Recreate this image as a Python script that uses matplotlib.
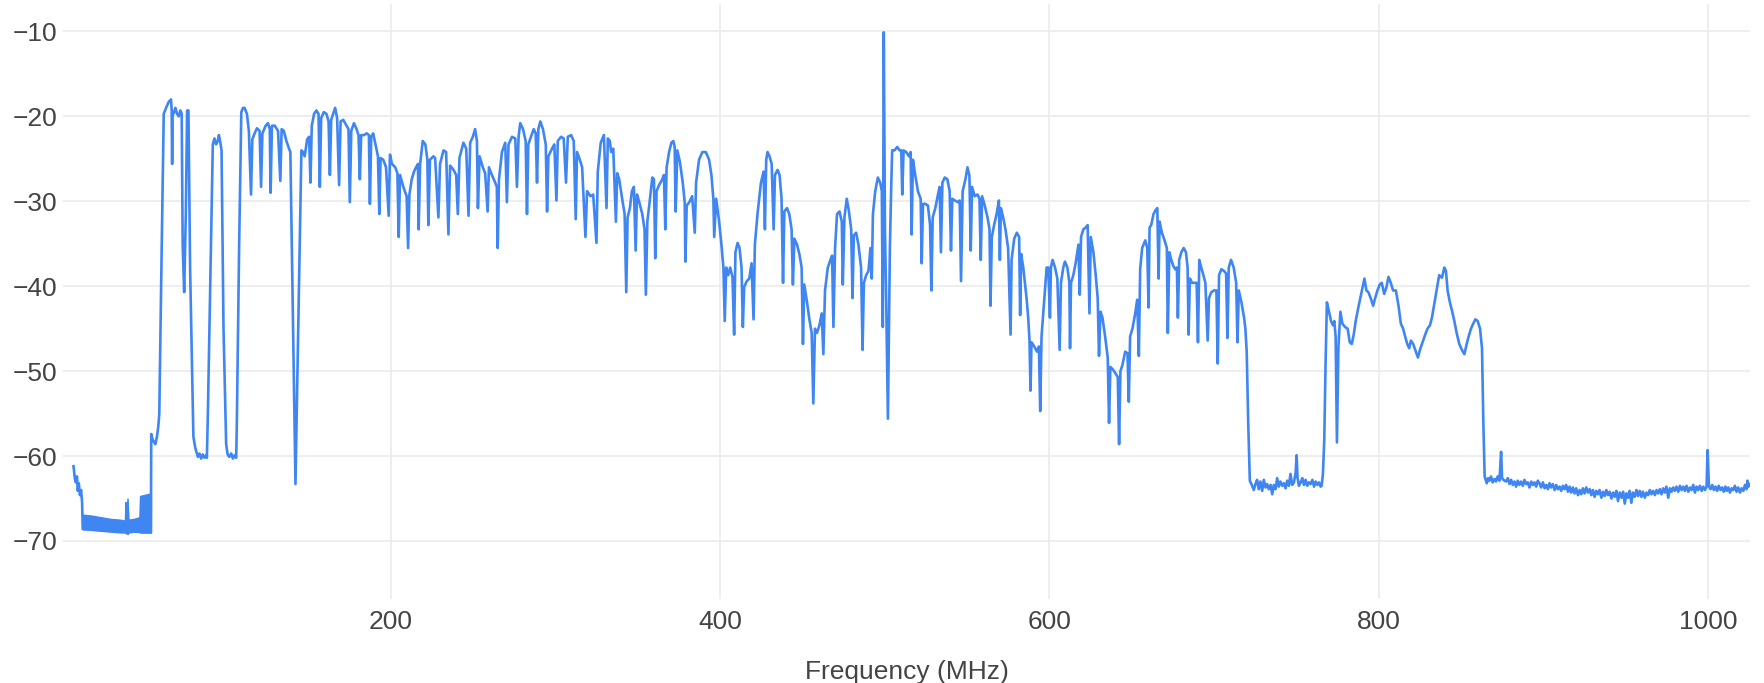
import numpy as np
import matplotlib
matplotlib.use("Agg")
import matplotlib.pyplot as plt

# spectrum sweep, (MHz, dB)
start_pts = [(7.4, -61.2), (8.2, -62.6), (8.8, -63.1), (9.5, -62.4), (10.0, -64.1), (10.6, -63.2),
             (11.3, -64.6), (12.0, -64.0), (12.6, -65.4), (13.0, -68.6), (54.4, -69.0)]

# dense floor 13-54 MHz shows as a solid band
band_mhz = [13.0, 18, 24, 30, 36, 38.6, 39.0, 39.5, 40.2, 40.8, 44, 47.4, 47.8, 50, 52, 54.4]
band_top = [-66.9, -67.0, -67.2, -67.4, -67.5, -67.6, -65.4, -67.0, -65.0, -67.5, -67.4, -67.2, -64.7, -64.6, -64.5, -64.4]
band_bot = [-68.6, -68.7, -68.8, -68.9, -69.0, -69.0, -69.1, -69.0, -69.2, -69.0, -68.9, -68.8, -69.0, -69.0, -69.0, -69.0]

vhf_pts = [
    (54.6, -57.4), (55.5, -58.1), (57.1, -58.6), (58.1, -57.7), (58.9, -56.5), (59.5, -55.0), (60.6, -40.1),
    (62.2, -19.7), (63.6, -19.0), (65.2, -18.3), (66.6, -18.0), (67.0, -19.2), (67.3, -25.6), (67.6, -19.5),
    (68.1, -19.7), (69.3, -19.0), (70.3, -19.7), (71.3, -20.0), (72.3, -19.3), (73.1, -19.7), (73.7, -35.1),
    (74.6, -40.7), (75.6, -31.5), (76.4, -19.3), (77.2, -19.3), (78.2, -37.8), (80.2, -57.7), (81.3, -59.0),
    (81.9, -59.4), (82.9, -60.1), (83.9, -59.7), (84.9, -60.3), (85.9, -59.8), (86.9, -60.2), (88.0, -59.9),
    (88.4, -60.2), (89.0, -55.0), (90.6, -37.8), (92.0, -23.3), (93.0, -22.6), (94.0, -23.3), (95.0, -22.9),
    (95.7, -22.2), (96.5, -23.0), (97.3, -24.0), (98.5, -45.0), (100.1, -58.6), (101.0, -59.8), (102.0, -60.1),
    (103.2, -59.7), (104.2, -60.3), (105.3, -59.9), (106.2, -60.2), (106.6, -56.0), (108.0, -35.0),
    (109.3, -19.5), (110.3, -19.0), (111.3, -19.0), (112.7, -19.7), (113.9, -21.7), (115.2, -29.2),
    (116.0, -22.7), (117.4, -22.0), (118.8, -21.4), (120.4, -21.7), (121.3, -28.3), (122.1, -22.0),
    (124.1, -21.1), (125.5, -20.8), (126.6, -21.5), (127.1, -29.0), (127.9, -21.1), (129.6, -21.1),
    (131.6, -21.7), (133.0, -27.6), (133.8, -21.5), (135.1, -21.7), (136.7, -22.9), (138.3, -23.8),
    (139.1, -24.2), (142.2, -63.3), (145.8, -24.0), (146.8, -24.2), (147.8, -24.7), (149.3, -22.7),
    (150.5, -22.4), (151.3, -27.8), (152.1, -21.1), (153.5, -19.7), (154.9, -19.3), (156.2, -19.7),
    (157.0, -28.3), (157.8, -20.2), (159.4, -19.5), (161.0, -19.7), (162.3, -20.6), (163.1, -26.9),
    (163.9, -20.4), (165.1, -19.7), (166.3, -19.0), (167.5, -20.2), (168.7, -28.1), (169.6, -20.6),
    (171.2, -20.4), (173.2, -21.1), (174.4, -21.5), (175.2, -30.1), (176.1, -21.7), (177.7, -20.8),
    (179.3, -21.5), (180.5, -22.2), (181.3, -27.4), (182.1, -22.2), (183.8, -22.2), (185.4, -22.0),
    (186.8, -22.2), (187.4, -30.3), (188.2, -22.4), (189.4, -22.0), (191.1, -23.6), (192.3, -24.7),
    (193.1, -31.5), (193.9, -24.9), (195.5, -25.1), (197.2, -26.0), (198.8, -31.7), (199.6, -24.5),
]

mid_pts = [
    (200.8, -25.6), (202.8, -26.0), (204.1, -26.7), (204.9, -34.2), (205.7, -26.9), (207.7, -28.3),
    (209.7, -29.4), (210.6, -35.5), (211.4, -29.2), (212.8, -27.4), (214.2, -26.5), (215.4, -26.0),
    (216.6, -25.6), (217.0, -33.3), (217.9, -25.6), (219.5, -22.9), (221.1, -23.3), (222.3, -25.1),
    (222.9, -32.8), (223.9, -25.1), (226.0, -24.7), (227.0, -24.9), (229.0, -31.9), (230.0, -25.6),
    (232.1, -24.0), (233.7, -24.2), (235.1, -33.9), (236.1, -25.8), (238.2, -26.3), (239.8, -26.9),
    (240.8, -31.5), (241.8, -24.9), (244.2, -23.1), (245.9, -23.8), (247.3, -31.7), (248.3, -23.1),
    (249.9, -22.4), (251.3, -21.5), (252.4, -22.9), (253.0, -30.8), (254.0, -24.7), (256.0, -26.0),
    (257.4, -26.7), (258.9, -31.2), (259.7, -26.0), (261.5, -26.9), (263.5, -27.8), (264.5, -28.3),
    (265.0, -35.5), (265.8, -27.4), (267.6, -24.2), (269.6, -23.1), (270.6, -30.1), (271.6, -23.3),
    (273.7, -22.4), (275.7, -22.6), (276.7, -28.3), (277.7, -22.4), (278.7, -20.8), (280.4, -21.5),
    (282.0, -22.9), (282.8, -31.5), (283.6, -23.3), (285.2, -22.4), (286.9, -21.5), (288.1, -22.0),
    (288.9, -27.8), (289.7, -21.5), (290.9, -20.6), (292.5, -21.5), (294.2, -23.3), (295.0, -31.2),
    (295.8, -24.7), (298.0, -23.8), (299.4, -23.3), (300.7, -29.9), (301.5, -22.9), (303.5, -22.4),
    (305.1, -22.6), (306.5, -27.8), (307.6, -22.4), (309.6, -22.2), (311.2, -22.9), (312.4, -32.1),
    (313.2, -24.2), (314.9, -25.1), (316.3, -26.0), (318.3, -34.2), (319.3, -28.8), (321.4, -29.4),
    (323.0, -29.2), (325.0, -34.9), (325.8, -26.5), (327.6, -23.1), (329.5, -22.2), (331.1, -30.8),
    (331.9, -22.6), (333.1, -22.9), (333.9, -24.2), (335.2, -23.8), (336.8, -32.4), (337.6, -26.7),
    (338.8, -27.4), (340.6, -29.7), (342.1, -31.5), (343.1, -40.7), (343.9, -31.9), (345.3, -30.8),
    (346.5, -28.8), (347.7, -28.3), (348.8, -35.8), (349.6, -29.2), (351.0, -30.1), (352.8, -31.5),
    (354.2, -33.3), (355.0, -41.0), (355.9, -32.4), (357.5, -29.7), (358.9, -27.2), (359.9, -27.4),
    (360.7, -36.7), (361.5, -28.8), (363.0, -28.1), (365.0, -27.4), (366.0, -26.9), (366.8, -33.3),
    (367.6, -26.0), (369.1, -24.2), (370.5, -23.1), (371.7, -22.9), (372.5, -23.6), (373.1, -31.2),
    (374.1, -24.0), (375.7, -25.4), (377.4, -27.8), (378.6, -30.1), (379.0, -37.1), (379.8, -30.5),
    (381.4, -30.1), (383.1, -29.4), (384.7, -33.7), (385.5, -27.8), (387.3, -25.1), (389.3, -24.2),
    (391.4, -24.2), (393.4, -25.1), (394.8, -26.9), (396.0, -29.7), (396.5, -34.2), (397.7, -29.7),
    (399.5, -32.4),
]

uhf_pts = [
    (400.9, -35.1), (402.1, -37.8), (402.9, -44.1), (403.8, -37.8), (405.0, -38.7), (406.2, -37.8),
    (407.6, -38.9), (408.6, -45.7), (409.4, -36.0), (410.7, -34.9), (411.9, -35.5), (413.1, -37.8),
    (413.9, -44.8), (414.7, -40.1), (416.3, -39.4), (417.8, -39.1), (419.2, -37.3), (420.4, -43.9),
    (421.2, -35.1), (422.8, -31.5), (424.9, -27.8), (426.5, -26.5), (427.3, -33.3), (428.1, -25.1),
    (428.9, -24.2), (430.1, -24.7), (431.4, -25.6), (432.6, -33.3), (433.4, -26.9), (435.0, -26.3),
    (436.2, -26.9), (437.4, -29.7), (438.3, -39.6), (439.1, -31.2), (440.7, -30.8), (442.1, -31.5),
    (443.5, -33.3), (444.3, -39.8), (445.2, -34.4), (446.8, -35.1), (448.2, -36.2), (449.6, -37.8),
    (450.4, -46.8), (451.2, -39.8), (452.9, -41.9), (454.3, -43.9), (455.7, -45.5), (456.7, -53.8),
    (457.7, -45.0), (458.9, -45.5), (460.4, -44.6), (461.8, -43.2), (462.8, -48.0), (463.8, -40.5),
    (465.5, -37.8), (467.1, -36.9), (468.1, -36.4), (468.9, -44.8), (469.9, -35.5), (471.1, -31.5),
    (472.6, -31.2), (474.0, -32.4), (474.6, -39.8), (475.6, -31.9), (477.0, -29.7), (478.2, -31.0),
    (479.7, -33.3), (480.5, -41.4), (481.3, -34.0), (482.7, -33.7), (484.1, -35.1), (485.7, -37.8),
    (486.6, -47.5), (487.4, -39.6), (488.8, -38.7), (490.2, -38.2), (491.4, -35.5), (492.2, -39.1),
    (492.9, -31.5), (494.3, -28.8), (495.9, -27.2), (497.3, -27.8), (498.3, -28.8), (498.9, -44.8),
    (499.5, -10.1), (500.2, -33.3), (501.0, -42.3), (502.0, -55.6), (503.2, -35.5), (504.0, -28.3),
    (504.6, -24.0), (506.0, -24.0), (507.7, -23.6), (509.1, -24.0), (510.1, -24.0), (510.7, -29.2),
    (511.5, -24.0), (513.1, -24.2), (514.8, -24.7), (515.8, -24.2), (516.4, -33.9), (517.2, -25.1),
    (518.6, -26.9), (520.2, -28.8), (521.9, -29.7), (522.5, -37.3), (523.3, -30.3), (524.7, -30.3),
    (526.3, -30.5), (527.6, -32.8), (528.4, -40.5), (529.2, -31.9), (530.8, -30.8), (532.4, -29.2),
    (533.4, -28.3), (534.2, -36.0), (535.1, -27.8), (536.5, -27.2), (538.1, -27.4), (539.5, -28.8),
    (540.3, -35.8), (541.1, -29.7), (542.6, -29.9), (544.6, -30.1), (545.6, -29.9), (546.4, -39.4),
    (547.4, -28.8), (549.1, -27.4), (550.3, -26.0), (551.5, -27.0), (552.3, -35.8), (553.1, -28.3),
    (554.7, -29.4), (556.4, -29.2), (557.6, -29.7), (558.4, -36.9), (559.2, -29.4), (560.8, -30.5),
    (562.5, -31.9), (563.7, -33.3), (564.3, -42.3), (565.1, -34.2), (566.5, -32.8), (568.0, -31.5),
    (569.4, -29.9), (570.0, -36.9), (570.6, -30.8), (572.0, -31.9), (573.4, -33.3), (575.0, -35.5),
    (576.5, -45.7), (577.1, -36.9), (578.7, -34.4), (580.3, -33.7), (581.7, -34.2), (582.3, -43.4),
    (582.9, -36.2), (584.2, -37.8), (585.2, -39.6), (586.2, -41.4), (587.2, -43.7), (588.0, -46.4),
    (588.6, -52.3), (589.2, -46.6), (590.9, -47.1), (592.5, -47.7), (593.7, -47.1), (594.5, -54.7),
    (595.3, -45.9), (597.0, -41.4), (598.4, -37.8), (599.4, -37.8), (600.4, -43.7), (601.0, -37.8),
    (602.0, -36.9), (603.5, -37.8), (604.9, -39.1), (606.3, -47.5), (607.1, -39.6), (608.5, -37.8),
    (609.5, -37.1), (611.0, -37.8), (612.2, -39.6), (612.6, -47.3), (613.2, -39.6), (614.6, -38.7),
    (616.0, -37.3), (617.7, -35.1), (618.5, -41.0), (619.3, -34.2), (620.7, -33.3), (622.1, -33.1),
    (623.3, -32.8), (624.4, -43.2), (625.2, -34.2), (626.8, -36.0), (628.2, -38.7), (629.4, -41.4),
    (630.2, -48.2), (631.1, -43.0), (632.3, -43.7), (633.9, -45.9), (635.5, -48.4), (636.3, -56.1),
    (637.1, -49.5), (638.6, -49.8), (640.0, -50.2), (641.6, -50.7), (642.4, -58.6), (643.2, -50.0),
    (644.4, -49.3), (646.1, -47.7), (647.5, -47.9), (648.3, -53.6), (649.1, -45.9), (650.5, -45.0),
    (652.2, -43.2), (653.4, -41.6), (654.4, -48.2), (655.2, -38.0), (656.4, -35.5), (658.3, -34.6),
    (659.5, -35.5), (660.3, -42.5), (660.9, -33.1), (661.9, -32.8), (663.3, -31.5), (664.7, -31.0),
    (665.6, -30.8), (666.4, -39.1), (667.0, -32.4), (668.4, -33.7), (670.0, -34.6), (671.4, -35.5),
    (672.0, -45.5), (672.9, -36.0), (674.1, -36.9), (675.3, -37.6), (676.5, -38.0), (677.5, -37.8),
    (678.1, -43.7), (678.9, -36.9), (680.2, -36.0), (681.6, -35.5), (683.0, -36.0), (684.0, -37.8),
    (684.6, -45.7), (685.4, -39.1), (686.7, -39.6), (688.3, -39.6), (689.5, -39.6), (690.3, -46.6),
    (691.1, -36.9), (692.3, -37.8), (693.6, -38.7), (694.8, -39.6), (696.2, -46.4), (697.0, -41.4),
    (698.4, -40.7), (700.1, -40.5), (701.5, -40.5), (702.3, -49.1), (703.1, -38.7), (704.5, -38.0),
    (706.1, -38.2), (707.4, -38.5), (708.2, -46.1), (709.0, -37.8), (710.4, -36.9), (712.0, -37.8),
    (713.5, -39.6), (714.3, -46.6), (715.1, -40.5), (716.7, -41.9), (718.3, -43.7), (719.1, -45.0),
    (719.9, -47.7), (720.8, -55.9), (721.8, -62.9),
]

gap_pts = [
    (723.2, -63.5), (724.2, -64.0), (725.2, -63.3), (726.2, -62.8), (727.2, -63.9), (728.2, -63.0),
    (729.3, -64.1), (730.3, -62.8), (731.3, -63.7), (732.3, -63.3), (733.3, -63.9), (734.4, -63.4),
    (735.4, -64.5), (736.4, -63.4), (737.4, -63.9), (738.4, -62.6), (739.4, -63.6), (740.4, -63.0),
    (741.5, -63.5), (742.5, -63.2), (743.5, -63.8), (744.5, -62.9), (745.5, -63.5), (746.5, -62.1),
    (747.5, -63.4), (748.6, -63.1), (749.6, -62.0), (750.2, -59.9), (750.8, -62.6), (751.6, -63.5),
    (752.7, -63.1), (753.7, -62.6), (754.7, -63.4), (755.7, -62.8), (756.7, -63.5), (757.7, -63.1),
    (758.7, -63.3), (759.8, -62.8), (760.8, -63.6), (761.8, -63.0), (762.8, -63.4), (763.8, -63.1),
    (764.8, -63.6), (765.4, -63.5), (766.2, -62.1), (767.0, -58.1), (767.8, -49.1),
]

lte_pts = [
    (768.6, -41.9), (769.9, -43.0), (771.1, -44.1), (772.3, -44.6), (773.1, -44.1), (773.9, -45.9),
    (774.7, -58.4), (775.6, -47.1), (776.8, -43.0), (778.0, -44.4), (779.6, -44.8), (781.2, -45.0),
    (782.5, -46.6), (783.7, -46.8), (784.9, -45.7), (786.1, -44.1), (787.7, -42.5), (789.1, -41.2),
    (790.6, -39.8), (791.4, -39.1), (792.6, -40.5), (793.8, -40.7), (795.2, -41.4), (796.7, -42.3),
    (797.9, -41.4), (799.3, -40.5), (800.7, -39.8), (801.9, -39.6), (803.4, -40.9), (804.8, -40.1),
    (806.0, -38.9), (807.4, -39.6), (808.8, -40.5), (810.5, -40.5), (812.1, -42.3), (813.5, -44.4),
    (814.9, -45.0), (816.1, -45.9), (817.4, -46.8), (818.6, -47.3), (819.6, -46.4), (821.0, -46.8),
    (822.6, -47.7), (823.9, -48.4), (825.1, -47.5), (826.7, -46.6), (828.3, -45.7), (829.7, -45.0),
    (831.2, -44.6), (832.4, -43.7), (833.8, -42.1), (835.2, -40.5), (836.8, -38.7), (838.5, -39.0),
    (839.9, -37.8), (840.9, -38.2), (841.9, -40.5), (843.3, -41.9), (844.5, -42.8), (846.0, -44.1),
    (847.4, -45.5), (849.0, -46.8), (850.6, -47.5), (852.1, -48.0), (853.5, -46.8), (854.7, -45.9),
    (856.1, -45.0), (857.5, -44.4), (858.8, -43.9), (860.2, -44.1), (861.6, -45.0), (862.8, -47.3),
    (863.6, -55.9), (864.4, -62.4),
]

tail_pts = [
    (865.7, -63.2), (866.5, -62.6), (867.3, -62.9), (868.3, -62.4), (869.3, -63.1), (870.3, -62.7),
    (871.3, -63.0), (872.3, -62.4), (873.4, -62.9), (874.4, -59.5), (875.0, -62.6), (875.8, -62.8),
    (877.4, -63.0), (878.5, -62.6), (879.5, -63.3), (880.5, -62.8), (881.5, -63.4), (882.5, -63.0),
    (883.5, -63.6), (884.5, -62.9), (885.5, -63.4), (886.5, -63.0), (887.6, -63.5), (888.6, -62.8),
    (889.6, -63.3), (890.6, -63.1), (891.6, -63.7), (892.7, -63.0), (893.7, -63.4), (894.7, -63.1),
    (895.7, -63.6), (896.7, -62.9), (897.7, -63.2), (898.7, -63.7), (899.8, -63.1), (900.8, -63.8),
    (901.8, -63.4), (902.8, -63.9), (903.8, -63.2), (904.8, -63.7), (905.8, -63.3), (906.9, -64.0),
    (907.9, -63.4), (908.9, -63.9), (909.9, -63.6), (910.9, -64.1), (911.9, -63.5), (912.9, -63.9),
    (913.9, -63.4), (915.0, -64.2), (916.0, -63.6), (917.0, -64.3), (918.0, -63.7), (919.0, -64.4),
    (920.0, -63.8), (921.1, -64.6), (922.1, -64.0), (923.1, -64.5), (924.1, -63.8), (925.1, -64.4),
    (926.1, -63.7), (927.2, -64.3), (928.2, -63.9), (929.2, -64.6), (930.2, -64.0), (931.2, -64.8),
    (932.2, -64.1), (933.2, -64.5), (934.2, -64.0), (935.3, -64.9), (936.3, -64.2), (937.3, -64.7),
    (938.3, -64.0), (939.3, -64.6), (940.3, -64.2), (941.4, -65.0), (942.4, -64.3), (943.4, -64.8),
    (944.4, -64.1), (945.4, -65.3), (946.4, -64.3), (947.5, -64.9), (948.5, -64.2), (949.5, -65.6),
    (950.5, -64.4), (951.5, -64.9), (952.5, -64.1), (953.5, -65.5), (954.5, -64.3), (955.6, -64.8),
    (956.6, -64.0), (957.6, -64.7), (958.6, -64.1), (959.6, -64.8), (960.6, -64.2), (961.7, -64.9),
    (962.7, -64.3), (963.7, -64.6), (964.7, -64.0), (965.7, -64.5), (966.7, -64.1), (967.8, -64.6),
    (968.8, -64.0), (969.8, -64.4), (970.8, -63.9), (971.8, -64.5), (972.8, -63.8), (973.8, -64.3),
    (974.8, -63.6), (975.9, -64.9), (976.9, -63.8), (977.9, -64.2), (978.9, -63.7), (979.9, -64.1),
    (980.9, -63.6), (982.0, -64.2), (983.0, -63.5), (984.0, -64.0), (985.0, -63.6), (986.0, -64.1),
    (987.0, -63.5), (988.1, -64.2), (989.1, -63.7), (990.1, -64.0), (991.1, -63.4), (992.1, -64.3),
    (993.1, -63.6), (994.1, -64.0), (995.1, -63.5), (996.2, -64.1), (997.2, -63.6), (998.2, -64.0),
    (999.2, -63.6), (999.8, -59.3), (1000.6, -63.5), (1001.6, -63.9), (1002.6, -63.4), (1003.6, -64.0),
    (1004.6, -63.6), (1005.6, -64.1), (1006.6, -63.5), (1007.6, -64.0), (1008.6, -63.7), (1009.6, -64.2),
    (1010.6, -63.6), (1011.4, -64.1), (1012.4, -63.7), (1013.4, -64.3), (1014.4, -63.8), (1015.4, -64.0),
    (1016.4, -63.5), (1017.4, -64.2), (1018.4, -63.7), (1019.5, -64.3), (1020.5, -63.8), (1021.5, -64.1),
    (1022.5, -63.4), (1023.5, -63.9), (1024.0, -62.9), (1024.6, -63.6), (1025.2, -63.3),
]

x_ticks = [200, 400, 600, 800, 1000]
y_ticks = [-70, -60, -50, -40, -30, -20, -10]

trace = np.array(start_pts + vhf_pts + mid_pts + uhf_pts + gap_pts + lte_pts + tail_pts)
freq, level = trace[:, 0], trace[:, 1]

blue = "#3f86f2"
grid = "#ebebeb"
txt = "#444444"
plt.rcParams["font.family"] = ["Liberation Sans", "DejaVu Sans"]

fig = plt.figure(figsize=(17.64, 6.83), dpi=100)
ax = fig.add_axes([0.0357, 0.1234, 0.9564, 0.8703])

ax.fill_between(band_mhz, band_bot, band_top, color=blue, lw=1.0, edgecolor=blue)
ax.plot(freq, level, color=blue, lw=1.9, solid_joinstyle="round")

ax.set_xlim(1, 1025.6)
ax.set_ylim(-76.8, -6.8)
ax.set_xticks(x_ticks)
ax.set_yticks(y_ticks)
ax.grid(True, color=grid, lw=1.2)
ax.set_axisbelow(True)
for s in ax.spines.values():
    s.set_visible(False)
ax.tick_params(length=0, labelsize=19, labelcolor=txt)
ax.tick_params(axis="x", pad=8)
ax.tick_params(axis="y", pad=4)
ax.set_xlabel("Frequency (MHz)", fontsize=19, color=txt, labelpad=19)

fig.savefig("out.png", dpi=100, facecolor="white")
